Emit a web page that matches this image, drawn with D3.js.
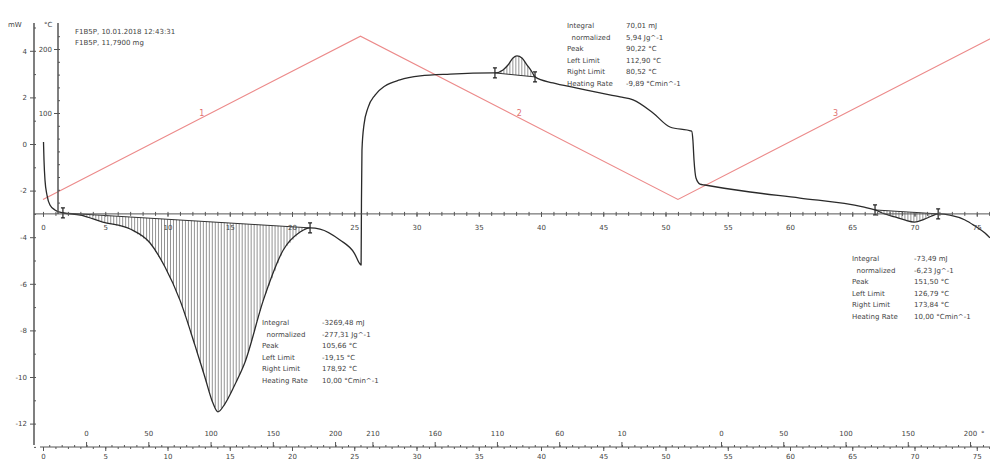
<!DOCTYPE html>
<html>
<head>
<meta charset="utf-8">
<script src="https://cdn.jsdelivr.net/npm/d3@7"></script>
<style>
  body { margin: 0; background: #fff; }
  svg text { font-family: "DejaVu Sans", sans-serif; }
</style>
</head>
<body>
<div class="chart"></div>
<script>
// DSC signal, time in min, signal in mW
const dscTime = [0.04, 0.08, 0.16, 0.32, 0.56, 0.96, 1.6, 3.0, 4.8, 7.0, 8.6, 9.8, 11.0, 12.2, 13.0, 13.65, 14.05, 14.6, 15.4, 16.2, 17.7, 19.3, 20.65, 21.45, 22.25, 23.85, 25.0, 25.46, 25.55, 25.58, 25.62, 25.78, 26.1, 26.67, 27.47, 28.67, 30.3, 32.7, 36.15, 36.3, 36.95, 37.35, 37.75, 38.07, 38.47, 38.88, 39.28, 39.52, 40.96, 42.9, 44.74, 46.35, 47.4, 49.0, 50.36, 52.1, 52.2, 52.29, 52.45, 52.77, 53.17, 56.8, 60.8, 65.86, 66.83, 67.6, 68.43, 69.2, 70.0, 70.8, 71.4, 71.9, 72.85, 74.06, 74.86, 75.66, 76.06];
const dscMw = [0.09, -0.69, -1.55, -2.19, -2.62, -2.83, -2.96, -3.05, -3.35, -3.65, -4.25, -5.28, -6.7, -8.63, -10.0, -11.12, -11.5, -11.16, -10.34, -9.4, -6.7, -4.55, -3.78, -3.6, -3.65, -4.12, -4.68, -5.15, -5.19, -2.4, -0.26, 0.82, 1.55, 2.1, 2.49, 2.75, 2.92, 3.0, 3.05, 3.05, 3.18, 3.39, 3.69, 3.78, 3.69, 3.39, 3.09, 2.88, 2.62, 2.4, 2.19, 2.02, 1.89, 1.33, 0.73, 0.55, 0.17, -0.69, -1.46, -1.72, -1.76, -2.06, -2.32, -2.7, -2.83, -3.0, -3.13, -3.26, -3.35, -3.22, -3.09, -3.0, -3.05, -3.26, -3.52, -3.82, -4.03];

// temperature program (min, °C)
const progTime = [0, 25.5, 51, 76.3];
const progTemp = [-35, 220, -35, 218];
const segLabels = ["1", "2", "3"];

// evaluated peaks: limits in min
const peakLeft = [1.6, 36.3, 66.83];
const peakRight = [21.45, 39.52, 71.9];
const resultLabels = ["Integral", "  normalized", "Peak", "Left Limit", "Right Limit", "Heating Rate"];
const peak1Values = ["-3269,48 mJ", "-277,31 Jg^-1", "105,66 °C", "-19,15 °C", "178,92 °C", "10,00 °Cmin^-1"];
const peak2Values = ["70,01 mJ", "5,94 Jg^-1", "90,22 °C", "112,90 °C", "80,52 °C", "-9,89 °Cmin^-1"];
const peak3Values = ["-73,49 mJ", "-6,23 Jg^-1", "151,50 °C", "126,79 °C", "173,84 °C", "10,00 °Cmin^-1"];
const headerLines = ["F1B5P, 10.01.2018 12:43:31", "F1B5P, 11,7900 mg"];

// tick labels
const mwTicks = [-12, -10, -8, -6, -4, -2, 0, 2, 4];
const tempAxisTicks = [100, 200];
const timeTicks = [0, 5, 10, 15, 20, 25, 30, 35, 40, 45, 50, 55, 60, 65, 70, 75];
const tempTicksSeg = [[0, 50, 100, 150, 200], [210, 160, 110, 60, 10], [0, 50, 100, 150, 200]];

const W = 990, H = 463;
const svg = d3.select(".chart").append("svg").attr("width", W).attr("height", H);

const x = d3.scaleLinear().domain([0, 75]).range([43, 976.75]);
const yMw = d3.scaleLinear().domain([-12, 4]).range([423.6, 50.8]);
const yT = d3.scaleLinear().domain([0, 200]).range([177, 49]);

const axisColor = "#555", textColor = "#444";
const xAxisY = yMw(-3);   // inner time axis
const bottomY = 447;

const plot = svg.append("g");
svg.append("clipPath").attr("id", "clip")
  .append("rect").attr("x", 34).attr("y", 20).attr("width", W - 34).attr("height", bottomY - 20);

// ---- axes ----
// mW axis
svg.append("line").attr("x1", 34).attr("x2", 34).attr("y1", 23).attr("y2", 445)
  .attr("stroke", axisColor).attr("stroke-width", 1.5);
const gMw = svg.append("g").attr("transform", "translate(34,0)")
  .call(d3.axisLeft(yMw).tickValues(mwTicks).tickSize(4).tickPadding(3).tickFormat(d => d));
gMw.select(".domain").remove();
svg.append("g").attr("transform", "translate(34,0)")
  .call(d3.axisRight(yMw).tickValues(d3.range(-13, 6)).tickSize(2).tickFormat(""))
  .select(".domain").remove();
svg.append("text").attr("x", 8).attr("y", 27).text("mW");

// °C axis
svg.append("line").attr("x1", 58).attr("x2", 58).attr("y1", 23).attr("y2", xAxisY)
  .attr("stroke", axisColor).attr("stroke-width", 1.5);
const gT = svg.append("g").attr("transform", "translate(58,0)")
  .call(d3.axisLeft(yT).tickValues(tempAxisTicks).tickSize(4).tickPadding(2));
gT.select(".domain").remove();
svg.append("g").attr("transform", "translate(58,0)")
  .call(d3.axisRight(yT).tickValues(d3.range(-40, 240, 20)).tickSize(2).tickFormat(""))
  .select(".domain").remove();
svg.append("text").attr("x", 44).attr("y", 27).text("°C");

// inner time axis
svg.append("line").attr("x1", 34).attr("x2", W).attr("y1", xAxisY).attr("y2", xAxisY)
  .attr("stroke", axisColor).attr("stroke-width", 1);
const gX = svg.append("g").attr("transform", `translate(0,${xAxisY})`)
  .call(d3.axisBottom(x).tickValues(timeTicks).tickSize(3).tickPadding(8));
gX.select(".domain").remove();
svg.append("g").attr("transform", `translate(0,${xAxisY - 2})`)
  .call(d3.axisBottom(x).tickValues(d3.range(0, 77)).tickSize(4).tickFormat(""))
  .select(".domain").remove();

// bottom axis: time below, temperature above
svg.append("line").attr("x1", 40).attr("x2", W).attr("y1", bottomY).attr("y2", bottomY)
  .attr("stroke", axisColor).attr("stroke-width", 1);
const gB = svg.append("g").attr("transform", `translate(0,${bottomY})`)
  .call(d3.axisBottom(x).tickValues(timeTicks).tickSize(4).tickPadding(3));
gB.select(".domain").remove();
svg.append("g").attr("transform", `translate(0,${bottomY})`)
  .call(d3.axisBottom(x).tickValues(d3.range(0, 77)).tickSize(2).tickFormat(""))
  .select(".domain").remove();

// temperature scale along the bottom, derived from the program segments
function timeAtTemp(seg, T) {
  const t0 = progTime[seg], t1 = progTime[seg + 1];
  const T0 = progTemp[seg], T1 = progTemp[seg + 1];
  return t0 + (T - T0) / (T1 - T0) * (t1 - t0);
}
tempTicksSeg.forEach((ticks, seg) => {
  const tt = ticks.map(T => ({ T, t: timeAtTemp(seg, T) }));
  const g = svg.append("g").attr("font-size", 7).attr("fill", textColor);
  g.selectAll("line").data(tt).enter().append("line")
    .attr("x1", d => x(d.t)).attr("x2", d => x(d.t))
    .attr("y1", bottomY).attr("y2", bottomY - 5)
    .attr("stroke", axisColor);
  g.selectAll("text").data(tt).enter().append("text")
    .attr("x", d => x(d.t)).attr("y", bottomY - 11)
    .attr("text-anchor", "middle").text(d => d.T);
});
svg.append("g").attr("transform", `translate(0,${bottomY})`)
  .call(d3.axisTop(x).tickValues(d3.range(0.5, 76, 1)).tickSize(2).tickFormat(""))
  .select(".domain").remove();
svg.append("text").attr("x", 981).attr("y", bottomY - 11).text("°");

svg.selectAll(".tick line").attr("stroke", axisColor);
svg.selectAll(".tick text").attr("fill", textColor).attr("font-size", 7);

// ---- temperature program (red) ----
const tempLine = d3.line().x((d, i) => x(progTime[i])).y(d => yT(d));
plot.append("path").datum(progTemp).attr("d", tempLine)
  .attr("clip-path", "url(#clip)")
  .attr("fill", "none").attr("stroke", "#ec8a8a").attr("stroke-width", 1.1);
segLabels.forEach((lbl, i) => {
  const tm = (progTime[i] + progTime[i + 1]) / 2;
  const Tm = (progTemp[i] + progTemp[i + 1]) / 2;
  plot.append("text").attr("x", x(tm)).attr("y", yT(Tm) - 2)
    .attr("text-anchor", "middle").attr("font-size", 8).attr("fill", "#e07070").text(lbl);
});

// ---- hatched peak areas ----
const bis = d3.bisector(d => d).left;
function signalAt(t) {
  let i = bis(dscTime, t);
  if (i <= 0) return dscMw[0];
  if (i >= dscTime.length) return dscMw[dscMw.length - 1];
  const f = (t - dscTime[i - 1]) / (dscTime[i] - dscTime[i - 1]);
  return dscMw[i - 1] + f * (dscMw[i] - dscMw[i - 1]);
}
peakLeft.forEach((tl, p) => {
  const tr = peakRight[p];
  const bl = signalAt(tl), br = signalAt(tr);
  const base = t => bl + (t - tl) / (tr - tl) * (br - bl);
  const hatch = plot.append("g");
  for (let t = tl; t <= tr; t += 0.24) {
    hatch.append("line")
      .attr("x1", x(t)).attr("x2", x(t))
      .attr("y1", yMw(base(t))).attr("y2", yMw(signalAt(t)))
      .attr("stroke", "#777").attr("stroke-width", 0.8);
  }
  plot.append("line")
    .attr("x1", x(tl)).attr("x2", x(tr)).attr("y1", yMw(bl)).attr("y2", yMw(br))
    .attr("stroke", "#333").attr("stroke-width", 1);
  // limit markers
  [[tl, bl], [tr, br]].forEach(([t, v]) => {
    const cx = x(t), cy = yMw(v);
    plot.append("path")
      .attr("d", `M${cx - 2},${cy - 5}H${cx + 2}M${cx},${cy - 5}V${cy + 5}M${cx - 2},${cy + 5}H${cx + 2}`)
      .attr("stroke", "#222").attr("stroke-width", 1.2).attr("fill", "none");
  });
});

// ---- DSC curve ----
const dscLine = d3.line().curve(d3.curveMonotoneX)
  .x((d, i) => x(dscTime[i])).y(d => yMw(d));
plot.append("path").datum(dscMw).attr("d", dscLine)
  .attr("clip-path", "url(#clip)")
  .attr("fill", "none").attr("stroke", "#2a2a2a").attr("stroke-width", 1.3);

// ---- text blocks ----
function resultBlock(x0, x1, y0, values) {
  const g = svg.append("g").attr("font-size", 7).attr("fill", textColor);
  resultLabels.forEach((l, i) => {
    g.append("text").attr("x", x0).attr("y", y0 + i * 11.6).attr("xml:space", "preserve").text(l);
    g.append("text").attr("x", x1).attr("y", y0 + i * 11.6).text(values[i]);
  });
}
resultBlock(262, 322, 325, peak1Values);
resultBlock(567, 626, 28, peak2Values);
resultBlock(852, 914, 261, peak3Values);

headerLines.forEach((s, i) => {
  svg.append("text").attr("x", 75).attr("y", 34 + i * 11)
    .attr("font-size", 7).attr("fill", textColor).text(s);
});
svg.selectAll("svg > text").filter(function () { return !this.getAttribute("fill"); })
  .attr("font-size", 7).attr("fill", textColor);
</script>
</body>
</html>
